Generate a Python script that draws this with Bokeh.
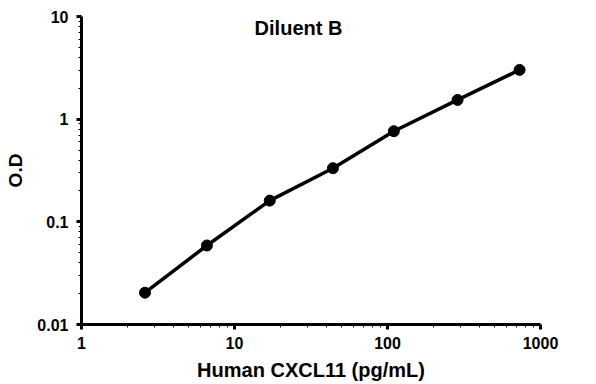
from bokeh.plotting import figure
from bokeh.models import FixedTicker, CustomJSTickFormatter, Label
from bokeh.embed import file_html
from bokeh.resources import INLINE

conc = [2.6, 6.6, 17.0, 44.0, 110.0, 287.0, 730.0]
od = [0.0204, 0.0588, 0.161, 0.333, 0.763, 1.54, 3.02]
x_ticks = [1, 10, 100, 1000]
y_ticks = [0.01, 0.1, 1, 10]
title_text = "Diluent B"
x_label = "Human CXCL11 (pg/mL)"
y_label = "O.D"

FONT = "Liberation Sans"

p = figure(width=596, height=384, x_axis_type="log", y_axis_type="log",
           x_range=(1, 1000), y_range=(0.01, 10),
           output_backend="svg", toolbar_location=None,
           min_border_left=81, min_border_right=56, min_border_top=16, min_border_bottom=60)
p.outline_line_color = None
p.grid.visible = False
p.background_fill_color = "white"
p.border_fill_color = "white"

xminor = [m * 10 ** e for e in range(0, 3) for m in range(2, 10)]
yminor = [m * 10.0 ** e for e in range(-2, 1) for m in range(2, 10)]
p.xaxis.ticker = FixedTicker(ticks=x_ticks, minor_ticks=xminor)
p.yaxis.ticker = FixedTicker(ticks=y_ticks, minor_ticks=yminor)
fmt = CustomJSTickFormatter(code="return String(Number(tick.toPrecision(6)));")
p.xaxis.formatter = fmt
p.yaxis.formatter = fmt

for ax in (p.xaxis, p.yaxis):
    ax.axis_line_width = 3
    ax.axis_line_color = "black"
    ax.major_tick_line_width = 3
    ax.major_tick_in = 0
    ax.major_tick_out = 5
    ax.minor_tick_in = 0
    ax.minor_tick_out = 3
    ax.minor_tick_line_width = 1
    ax.major_label_text_font = FONT
    ax.major_label_text_font_style = "bold"
    ax.major_label_text_font_size = "16px"
    ax.major_label_text_color = "black"
    ax.axis_label_text_font = FONT
    ax.axis_label_text_font_style = "bold"
    ax.axis_label_text_color = "black"

p.xaxis.axis_label_text_font_size = "20px"
p.yaxis.axis_label_text_font_size = "19px"
p.xaxis.axis_label = x_label
p.yaxis.axis_label = y_label
p.xaxis.major_label_standoff = 7
p.yaxis.major_label_standoff = 8
p.xaxis.axis_label_standoff = 7
p.yaxis.axis_label_standoff = 8

p.line(conc, od, line_width=3.5, line_color="black")
p.scatter(conc, od, size=11, fill_color="black", line_color="black")

p.add_layout(Label(x=26.2, y=7.8, text=title_text, text_align="center",
                   text_baseline="middle", text_font=FONT, text_font_style="bold",
                   text_font_size="20px", text_color="black"))

open("out.html", "w").write(file_html(p, INLINE))
